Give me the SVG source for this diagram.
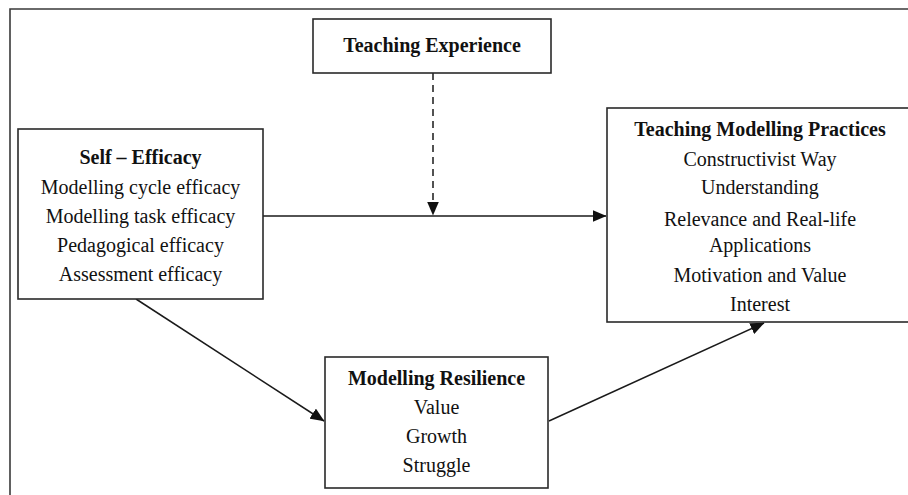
<svg xmlns="http://www.w3.org/2000/svg" width="908" height="495" viewBox="0 0 908 495">
<style>
.box{fill:#fff;stroke:#2a2a2a;stroke-width:1.6}
.frame{fill:none;stroke:#3a3a3a;stroke-width:1.6}
text{font-family:"Liberation Serif","Times New Roman",serif;font-size:20px;fill:#111;text-anchor:middle}
.b{font-weight:bold}
.c{fill:none;stroke:#1a1a1a;stroke-width:1.5}
.d{stroke-dasharray:7 5}
</style>
<defs>
<marker id="ah" viewBox="0 0 14 12" markerWidth="14" markerHeight="12" refX="13.5" refY="6" orient="auto" markerUnits="userSpaceOnUse">
<path d="M0,0 L14,6 L0,12 z" fill="#111"/>
</marker>
</defs>
<rect width="908" height="495" fill="#fff"/>
<path class="frame" d="M10,500 L10,9 L915,9"/>
<g id="connectors">
<line class="c" x1="263" y1="216" x2="606" y2="216" marker-end="url(#ah)"/>
<line class="c d" x1="433" y1="73" x2="433" y2="215" marker-end="url(#ah)"/>
<line class="c" x1="136" y1="299" x2="324" y2="421" marker-end="url(#ah)"/>
<line class="c" x1="549" y1="421" x2="764" y2="323" marker-end="url(#ah)"/>
</g>
<g id="teaching-experience">
<rect class="box" x="313" y="19" width="238" height="54"/>
<text class="b" x="432" y="52">Teaching Experience</text>
</g>
<g id="self-efficacy">
<rect class="box" x="18" y="129" width="245" height="170"/>
<text class="b" x="140.5" y="164">Self – Efficacy</text>
<text x="140.5" y="194">Modelling cycle efficacy</text>
<text x="140.5" y="223">Modelling task efficacy</text>
<text x="140.5" y="252">Pedagogical efficacy</text>
<text x="140.5" y="281">Assessment efficacy</text>
</g>
<g id="teaching-modelling-practices">
<rect class="box" x="607" y="108" width="310" height="214"/>
<text class="b" x="760" y="136">Teaching Modelling Practices</text>
<text x="760" y="166">Constructivist Way</text>
<text x="760" y="194">Understanding</text>
<text x="760" y="226">Relevance and Real-life</text>
<text x="760" y="252">Applications</text>
<text x="760" y="282">Motivation and Value</text>
<text x="760" y="311">Interest</text>
</g>
<g id="modelling-resilience">
<rect class="box" x="325" y="357" width="223" height="131"/>
<text class="b" x="436.5" y="385">Modelling Resilience</text>
<text x="436.5" y="414">Value</text>
<text x="436.5" y="443">Growth</text>
<text x="436.5" y="472">Struggle</text>
</g>
</svg>
